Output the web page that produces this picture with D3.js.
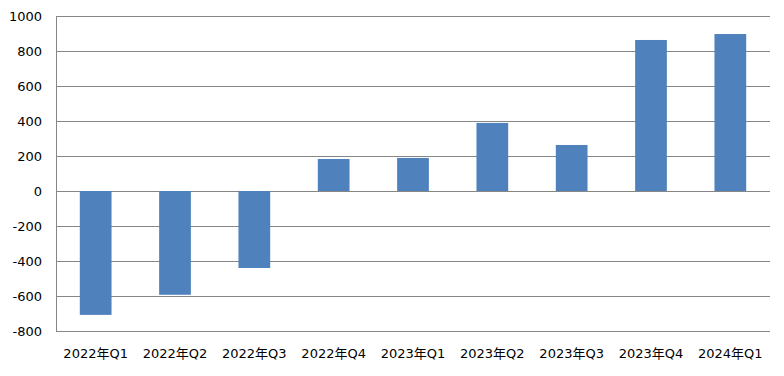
<!DOCTYPE html>
<html>
<head>
<meta charset="utf-8">
<script src="https://cdn.jsdelivr.net/npm/d3@7"></script>
<style>
	body { margin: 0; background: #fff; }
	svg text { font-family: "DejaVu Sans", "Noto Sans CJK JP", sans-serif; font-size: 13px; fill: #000; }
</style>
</head>
<body>
<svg width="784" height="376"></svg>
<script>
const quarters = ['2022年Q1', '2022年Q2', '2022年Q3', '2022年Q4', '2023年Q1', '2023年Q2', '2023年Q3', '2023年Q4', '2024年Q1']
const values = [-708, -593, -440, 183, 189, 389, 263, 863, 897]
const yTicks = [-800, -600, -400, -200, 0, 200, 400, 600, 800, 1000]

const plotLeft = 56, plotRight = 770, plotTop = 16, plotBottom = 331

const svg = d3.select('svg')

let xScale = d3.scaleBand()
	.domain(quarters)
	.range([plotLeft, plotRight])
	.paddingInner(0.6)
	.paddingOuter(0.3)

let yScale = d3.scaleLinear()
	.domain([-800, 1000])
	.range([plotBottom, plotTop])

// gridlines
svg.append('g')
	.selectAll('line')
	.data(yTicks)
	.enter()
	.append('line')
	.attr('x1', plotLeft)
	.attr('x2', plotRight)
	.attr('y1', d => Math.round(yScale(d)) + 0.5)
	.attr('y2', d => Math.round(yScale(d)) + 0.5)
	.attr('stroke', '#868686')
	.attr('stroke-width', 1)

// y axis line
svg.append('line')
	.attr('x1', plotLeft + 0.5)
	.attr('x2', plotLeft + 0.5)
	.attr('y1', plotTop)
	.attr('y2', plotBottom + 0.5)
	.attr('stroke', '#868686')

// bars
svg.append('g')
	.selectAll('rect')
	.data(values)
	.enter()
	.append('rect')
	.attr('x', (d, i) => xScale(quarters[i]))
	.attr('width', xScale.bandwidth())
	.attr('y', d => yScale(Math.max(0, d)))
	.attr('height', d => Math.abs(yScale(d) - yScale(0)))
	.attr('fill', '#4F81BD')

// y tick labels
svg.append('g')
	.selectAll('text')
	.data(yTicks)
	.enter()
	.append('text')
	.attr('x', 42)
	.attr('y', d => yScale(d))
	.attr('dy', '0.35em')
	.attr('text-anchor', 'end')
	.text(d => d)

// x labels
svg.append('g')
	.selectAll('text')
	.data(quarters)
	.enter()
	.append('text')
	.attr('x', d => xScale(d) + xScale.bandwidth() / 2)
	.attr('y', 358)
	.attr('text-anchor', 'middle')
	.text(d => d)
</script>
</body>
</html>
